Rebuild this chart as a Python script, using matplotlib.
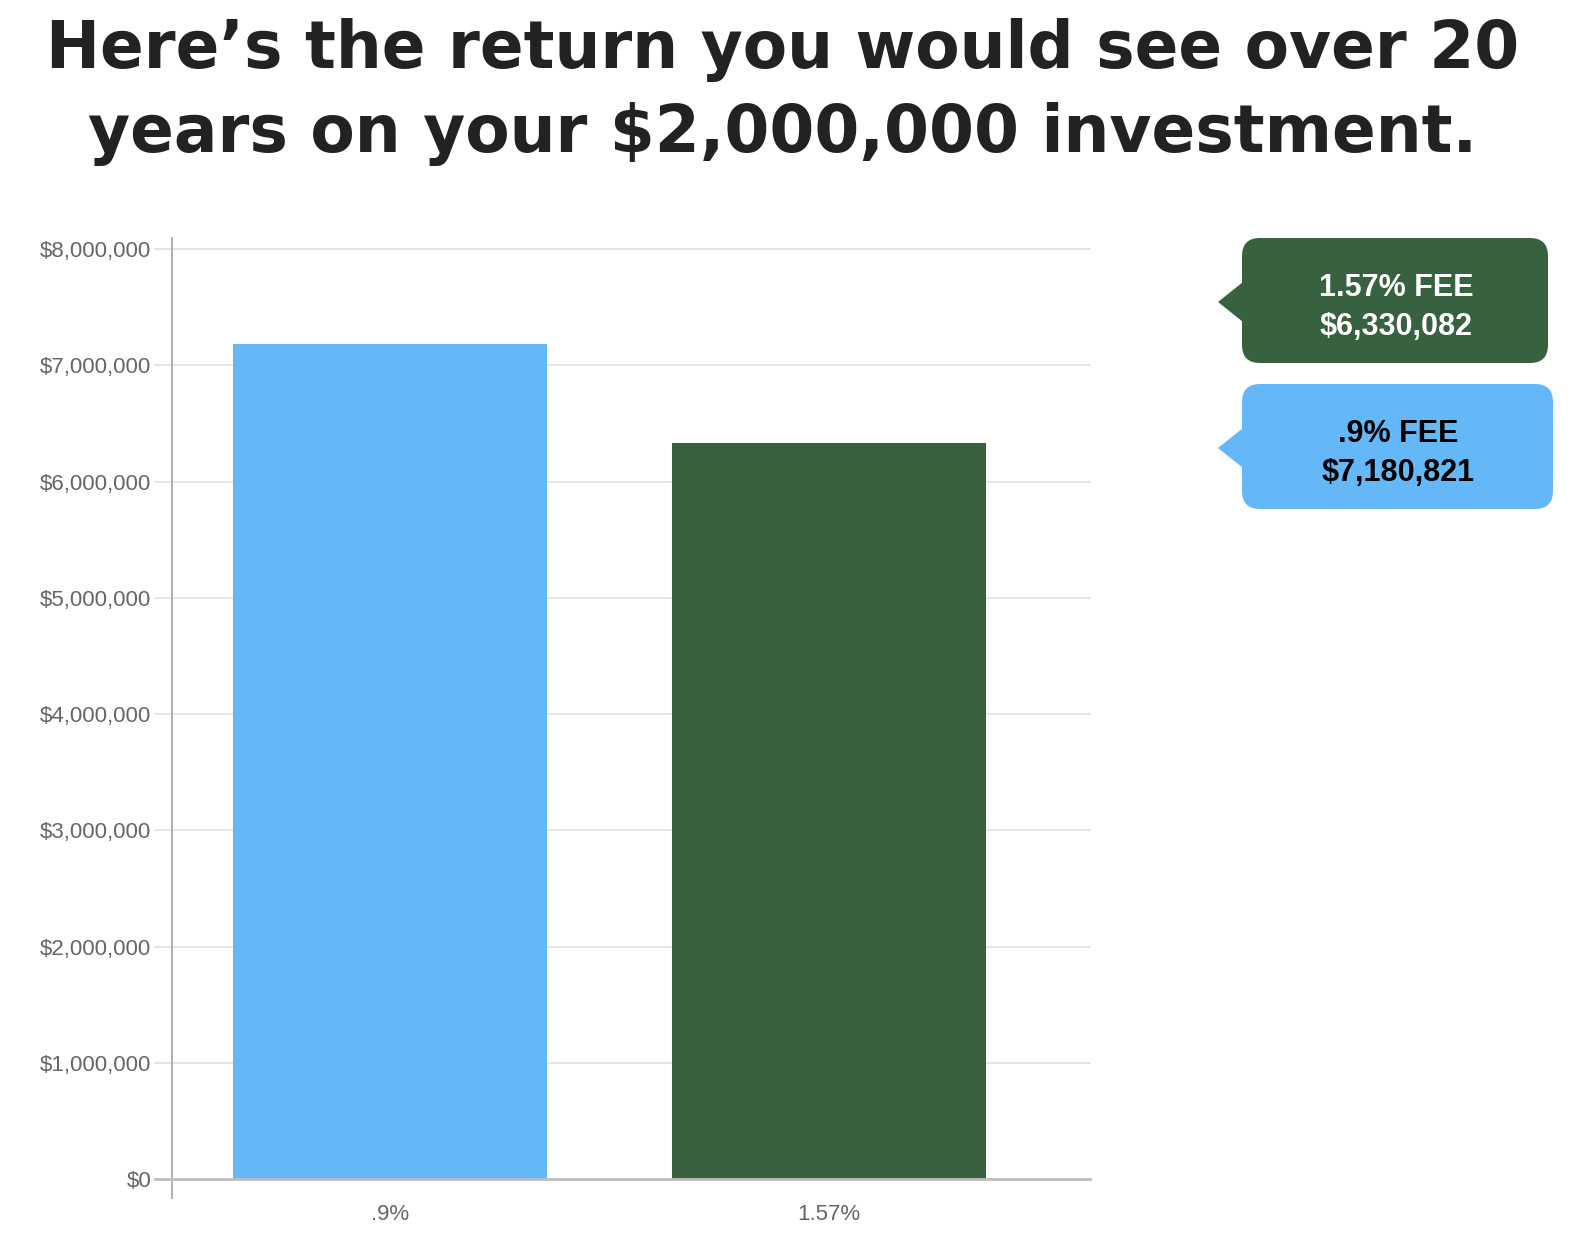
import numpy as np
import matplotlib
matplotlib.use("Agg")
from matplotlib import pyplot as plt
from matplotlib.patches import FancyBboxPatch, Polygon

categories = ['.9%', '1.57%']
values = [7180821, 6330082]
colors = ['#64b8f8', '#386140']
yticks = [0, 1000000, 2000000, 3000000, 4000000, 5000000, 6000000, 7000000, 8000000]
callouts = [('1.57% FEE', '$6,330,082', '#386140', 'white'),
            ('.9% FEE', '$7,180,821', '#64b8f8', 'black')]
title = 'Here\u2019s the return you would see over 20\nyears on your $2,000,000 investment.'

plt.rcParams['font.family'] = ['Liberation Sans', 'DejaVu Sans']

fig = plt.figure(figsize=(15.72, 12.44), dpi=100)
W, H = 1572, 1244

ax = fig.add_axes([172 / W, 1 - 1198 / H, (1090 - 172) / W, (1198 - 238) / H])
x = np.arange(len(categories))
ax.bar(x, values, width=0.715, color=colors, zorder=2)
ax.set_xlim(-0.497, 1.595)
ax.set_ylim(-163000, 8095000)

for t in yticks:
    if t == 0:
        ax.axhline(t, xmin=-0.0185, xmax=1, color='#bdbdbd', lw=2, zorder=3, clip_on=False)
    else:
        ax.axhline(t, xmin=-0.0185, xmax=1, color='#e3e3e3', lw=1.3, zorder=1, clip_on=False)

ax.set_yticks(yticks)
ax.set_yticklabels(['${:,}'.format(t) for t in yticks])
ax.set_xticks(x)
ax.set_xticklabels(categories)
ax.tick_params(axis='both', length=0, labelsize=16, colors='#666666')
ax.tick_params(axis='y', pad=15)
ax.tick_params(axis='x', pad=4)
for s in ['top', 'right', 'bottom']:
    ax.spines[s].set_visible(False)
ax.spines['left'].set_color('#aaaaaa')
ax.spines['left'].set_linewidth(1.3)

# overlay in pixel coordinates for title and callouts
ov = fig.add_axes([0, 0, 1, 1])
ov.set_xlim(0, W)
ov.set_ylim(H, 0)
ov.axis('off')
ov.patch.set_alpha(0)

ov.text(783, 92, title, ha='center', va='center', fontsize=46.5, fontweight='bold',
        family='DejaVu Sans', color='#222222', linespacing=1.4)

tops = [238, 384]
widths = [306, 311]
for (l1, l2, fc, tc), top, w in zip(callouts, tops, widths):
    h = 125
    r = 18
    box = FancyBboxPatch((1242 + r, top + r), w - 2 * r, h - 2 * r,
                         boxstyle='round,pad=%d' % r, fc=fc, ec='none')
    ov.add_patch(box)
    mid = top + 64
    ov.add_patch(Polygon([[1243, mid - 20], [1218, mid], [1243, mid + 20]],
                         closed=True, fc=fc, ec='none'))
    cx = 1242 + w / 2 + 1
    ov.text(cx, top + 50, l1, ha='center', va='center', fontsize=22,
            fontweight='bold', color=tc)
    ov.text(cx, top + 89, l2, ha='center', va='center', fontsize=22,
            fontweight='bold', color=tc)

plt.savefig('out.png', dpi=100)
